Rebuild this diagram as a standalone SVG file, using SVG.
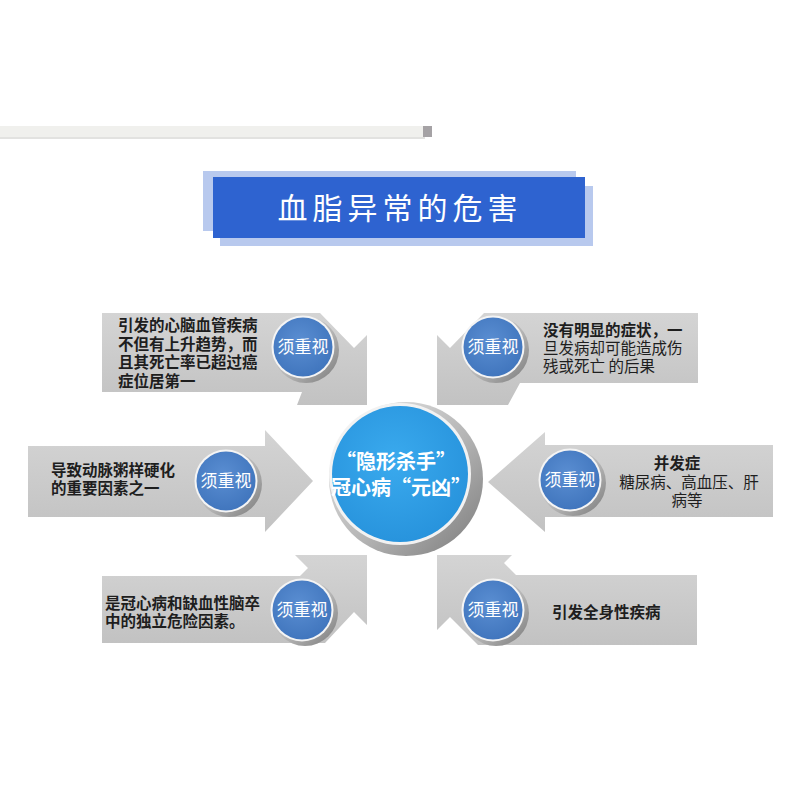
<svg xmlns="http://www.w3.org/2000/svg" width="800" height="800" viewBox="0 0 800 800">
<defs>
<style>
.t{font-family:"Noto Sans CJK SC","Noto Sans",sans-serif;fill:#1e1e1e;font-size:15.5px;font-weight:700}
.n{font-weight:400}
.b{font-family:"Noto Sans CJK SC","Noto Sans",sans-serif;fill:#fff;font-size:17px;text-anchor:middle}
.panel{fill:url(#pg)}
</style>
<linearGradient id="pg" x1="0" y1="0" x2="0" y2="1">
<stop offset="0" stop-color="#D4D4D4"/><stop offset="1" stop-color="#C2C2C2"/>
</linearGradient>
<linearGradient id="sh" x1="0" y1="0" x2="1" y2="1">
<stop offset="0" stop-color="#EDEDED"/><stop offset="0.55" stop-color="#B5B5B5"/><stop offset="1" stop-color="#7A7A7A"/>
</linearGradient>
<radialGradient id="bl" cx="0.45" cy="0.4" r="0.65">
<stop offset="0" stop-color="#5A8ED2"/><stop offset="1" stop-color="#3F74BC"/>
</radialGradient>
<radialGradient id="cb" cx="0.45" cy="0.4" r="0.7">
<stop offset="0" stop-color="#3AAAEE"/><stop offset="1" stop-color="#2590DA"/>
</radialGradient>
<symbol id="badge" overflow="visible">
<circle cx="3" cy="3" r="33" fill="url(#sh)"/>
<circle cx="0" cy="0" r="31.5" fill="#F4F4F4"/>
<circle cx="0" cy="0" r="29.5" fill="url(#bl)"/>
</symbol>
</defs>
<rect width="800" height="800" fill="#fff"/>
<g id="topbar">
<rect x="0" y="127" width="425" height="12" fill="#E2E2E0"/>
<rect x="0" y="126" width="423" height="11" fill="#F0F0ED"/>
<rect x="423" y="126" width="9" height="11" fill="#A5A2A5"/>
</g>
<g id="title">
<rect x="203" y="171" width="373" height="60" fill="#B8C9EE"/>
<rect x="220" y="186" width="373" height="60" fill="#B8C9EE"/>
<rect x="213" y="177" width="372" height="61" fill="#2E63D0"/>
<text x="400" y="219" font-family="'Noto Sans CJK SC','Noto Sans',sans-serif" font-size="30" letter-spacing="5" fill="#fff" text-anchor="middle">血脂异常的危害</text>
</g>
<g id="connectors">
<polygon class="panel" points="102,313 320,313 354,348 367,335 367,405 297,405 302,392 102,392"/>
<polygon class="panel" points="698,313 484,313 450,348 437,335 437,405 508,405 520,383 698,383"/>
<polygon class="panel" points="28,446 265,446 265,430 313,481 265,532 265,517 28,517"/>
<polygon class="panel" points="773,445 545,445 545,432 488,482 545,532 545,517 773,517"/>
<polygon class="panel" points="102,576 300,576 308,568 295,555 367,555 367,625 354,612 325,643 102,643"/>
<polygon class="panel" points="697,575 516,575 504,563 512,555 437,555 437,630 450,617 478,645 697,645"/>
</g>
<g id="center">
<circle cx="406" cy="479" r="77" fill="url(#sh)"/>
<circle cx="400" cy="474" r="71" fill="#F2F2F2"/>
<circle cx="400" cy="474" r="68" fill="url(#cb)"/>
<text font-family="'Noto Sans CJK SC','Noto Sans',sans-serif" font-size="20" font-weight="700" fill="#fff" text-anchor="middle"><tspan x="396" y="469">“隐形杀手”</tspan><tspan x="401" y="495">冠心病“元凶”</tspan></text>
</g>
<g id="node-tl">
<use href="#badge" x="303" y="347"/>
<text class="b" x="303" y="353">须重视</text>
<text class="t"><tspan x="118" y="331">引发的心脑血管疾病</tspan><tspan x="118" y="349.5">不但有上升趋势，而</tspan><tspan x="118" y="368">且其死亡率已超过癌</tspan><tspan x="118" y="386.5">症位居第一</tspan></text>
</g>
<g id="node-tr">
<use href="#badge" x="493" y="347"/>
<text class="b" x="493" y="353">须重视</text>
<text class="t"><tspan x="543" y="336">没有明显的症状，一</tspan><tspan class="n" x="543" y="354">旦发病却可能造成伤</tspan><tspan class="n" x="543" y="372">残或死亡 的后果</tspan></text>
</g>
<g id="node-ml">
<use href="#badge" x="226" y="481"/>
<text class="b" x="226" y="487">须重视</text>
<text class="t"><tspan x="51" y="476">导致动脉粥样硬化</tspan><tspan x="51" y="494">的重要因素之一</tspan></text>
</g>
<g id="node-mr">
<use href="#badge" x="570" y="480"/>
<text class="b" x="570" y="486">须重视</text>
<text class="t" text-anchor="middle"><tspan x="677" y="469">并发症</tspan><tspan class="n" x="689" y="488">糖尿病、高血压、肝</tspan><tspan class="n" x="687" y="506">病等</tspan></text>
</g>
<g id="node-bl">
<use href="#badge" x="302" y="610"/>
<text class="b" x="302" y="616">须重视</text>
<text class="t"><tspan x="105" y="609">是冠心病和缺血性脑卒</tspan><tspan x="105" y="627">中的独立危险因素。</tspan></text>
</g>
<g id="node-br">
<use href="#badge" x="493" y="610"/>
<text class="b" x="493" y="616">须重视</text>
<text class="t" x="552" y="618">引发全身性疾病</text>
</g>
</svg>
